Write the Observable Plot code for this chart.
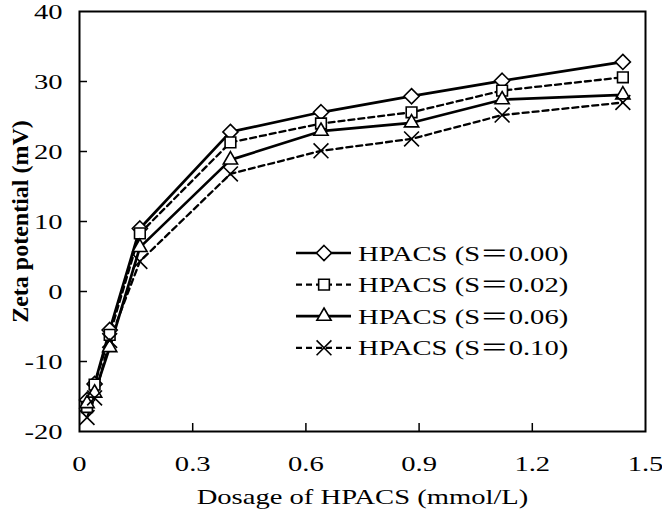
<!DOCTYPE html>
<html>
<head>
<meta charset="utf-8">
<script src="https://cdn.jsdelivr.net/npm/d3@7"></script>
<script src="https://cdn.jsdelivr.net/npm/@observablehq/plot@0.6"></script>
<style>
  html, body { margin: 0; padding: 0; background: white; }
  #wrap { position: relative; width: 662px; height: 521px; }
  #legend { position: absolute; left: 0; top: 0; }
</style>
</head>
<body>
<div id="wrap"></div>
<script>
const dosage = [0.02, 0.04, 0.08, 0.16, 0.40, 0.64, 0.88, 1.12, 1.44];
const seriesNames = ["HPACS (S＝0.00)", "HPACS (S＝0.02)", "HPACS (S＝0.06)", "HPACS (S＝0.10)"];
const s000 = [-15.5, -13.2, -5.5, 9.0, 22.8, 25.6, 27.9, 30.1, 32.8];
const s002 = [-16.5, -13.3, -6.2, 8.3, 21.3, 24.0, 25.6, 28.7, 30.6];
const s006 = [-16.0, -14.5, -8.0, 6.3, 18.8, 22.9, 24.1, 27.4, 28.1];
const s010 = [-18.0, -15.2, -7.0, 4.3, 16.8, 20.1, 21.8, 25.2, 27.0];
const xTicks = [0, 0.3, 0.6, 0.9, 1.2, 1.5];
const yTicks = [-20, -10, 0, 10, 20, 30, 40];

const seriesValues = [s000, s002, s006, s010];
const symbols = ["diamond2", "square2", "triangle2", "times"];
const d3Symbols = [d3.symbolDiamond2, d3.symbolSquare2, d3.symbolTriangle2, d3.symbolTimes];
const dashes = [null, "6,4", null, "6,4"];
const widths = [2.7, 2.3, 2.7, 2.3];

const rows = [];
seriesNames.forEach((name, i) => {
  dosage.forEach((d, j) => rows.push({series: name, x: d, y: seriesValues[i][j]}));
});

const W = 662, H = 521, mL = 79, mR = 17, mT = 11, mB = 90;
const innerW = W - mL - mR, innerH = H - mT - mB;
const font = "'Liberation Serif', 'Times New Roman', 'Noto Sans CJK SC', serif";
const STRETCH = 1.3;
const R = 6.8;

const lineMarks = seriesNames.map((name, i) =>
  Plot.line(rows.filter(r => r.series === name), {
    x: "x", y: "y", stroke: "black", strokeWidth: widths[i],
    strokeDasharray: dashes[i] || undefined
  })
);

const chart = Plot.plot({
  width: W, height: H,
  marginLeft: mL, marginRight: mR, marginTop: mT, marginBottom: mB,
  style: {fontFamily: font, fontSize: "22px", color: "black", background: "white"},
  x: {domain: [0, 1.5]},
  y: {domain: [-20, 40]},
  symbol: {domain: seriesNames, range: symbols},
  marks: [
    Plot.gridX(xTicks.slice(1, -1), {stroke: "black", strokeOpacity: 1, strokeWidth: 1.5, insetTop: innerH - 8}),
    Plot.gridY(yTicks.slice(1, -1), {stroke: "black", strokeOpacity: 1, strokeWidth: 1.5, insetRight: innerW - 8}),
    Plot.axisX(xTicks, {tickSize: 0, tickPadding: 24, tickFormat: d => d === 0 ? "0" : d.toFixed(1), label: null, fontSize: 22}),
    Plot.axisY(yTicks, {tickSize: 0, tickPadding: 17, tickFormat: d => String(d), label: null, fontSize: 22}),
    Plot.text(["Dosage of HPACS (mmol/L)"], {frameAnchor: "bottom", dy: 72, fontSize: 22, textAnchor: "middle"}),
    Plot.text(["Zeta potential (mV)"], {frameAnchor: "left", rotate: -90, dx: -59, fontSize: 24, fontWeight: "bold", textAnchor: "middle"}),
    ...lineMarks,
    Plot.dot(rows, {x: "x", y: "y", symbol: "series", r: R, stroke: "black", strokeWidth: 1.6, fill: "white"}),
    Plot.frame({stroke: "black", strokeWidth: 2})
  ]
});

const wrap = document.getElementById("wrap");
wrap.appendChild(chart);

// Legend overlay
const leg = d3.select(wrap).append("svg")
  .attr("id", "legend").attr("width", W).attr("height", H)
  .style("font-family", font);
const legX0 = 296, legX1 = 351, legMid = 324, legText = 358, legTop = 253, legStep = 31.6;
seriesNames.forEach((name, i) => {
  const y = legTop + i * legStep;
  const g = leg.append("g");
  g.append("line").attr("x1", legX0).attr("x2", legX1).attr("y1", y).attr("y2", y)
    .attr("stroke", "black").attr("stroke-width", widths[i])
    .attr("stroke-dasharray", dashes[i]);
  g.append("path").attr("transform", `translate(${legMid},${y})`)
    .attr("d", d3.symbol(d3Symbols[i], Math.PI * R * R)())
    .attr("fill", "white").attr("stroke", "black").attr("stroke-width", 1.6);
  g.append("text").attr("x", legText).attr("y", y).attr("dy", "0.35em")
    .attr("font-size", 22).text(name);
});

// The reference typeface is horizontally widened: stretch non-rotated texts about their anchors
function stretch(el, s) {
  const t = el.getAttribute("transform") || "";
  if (t.includes("rotate")) return;
  const x = +el.getAttribute("x") || 0;
  el.setAttribute("transform", `${t} translate(${x},0) scale(${s},1) translate(${-x},0)`);
}
wrap.querySelectorAll("svg text").forEach(el => stretch(el, STRETCH));
</script>
</body>
</html>
